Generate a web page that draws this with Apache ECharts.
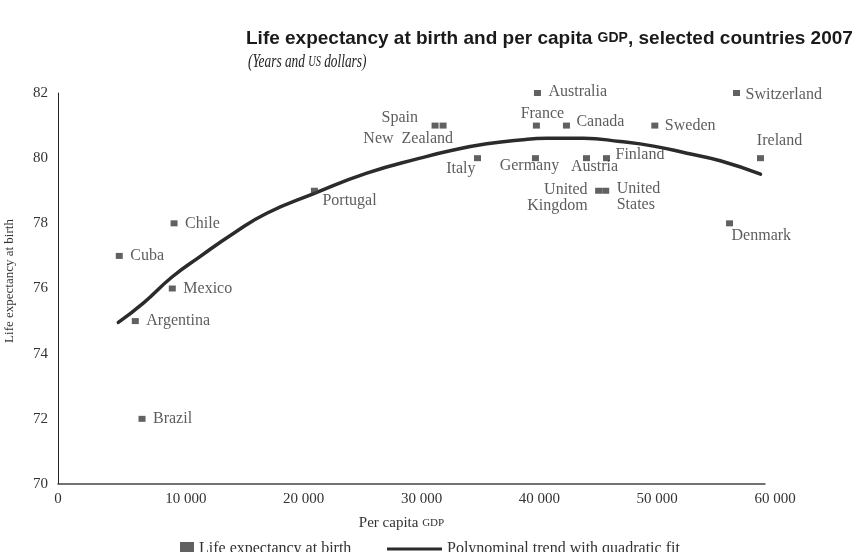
<!DOCTYPE html>
<html>
<head>
<meta charset="utf-8">
<script src="https://cdn.jsdelivr.net/npm/echarts@6/dist/echarts.min.js"></script>
<style>
html,body{margin:0;padding:0;background:#fff;}
#chart{width:854px;height:552px;}
</style>
</head>
<body>
<div id="chart"></div>
<script>
// countries, per capita GDP (US$) and life expectancy (years), 2007
var countries = ['Cuba','Argentina','Brazil','Chile','Mexico','Portugal','Spain','New  Zealand','Italy',
	'Australia','France','Germany','Canada','Austria','Finland','United\nKingdom','United\nStates',
	'Sweden','Switzerland','Ireland','Denmark'];
var gdp = [5200,6560,7130,9850,9700,21760,32000,32680,35600,
	40690,40600,40520,43150,44850,46550,45880,46480,
	50650,57580,59620,56990];
var lifeExp = [77,75,72,78,76,79,81,81,80,
	82,81,80,81,80,80,79,79,
	81,82,80,78];

// quadratic trend line
var trendGdp = [5120,7240,9700,12050,14880,17720,21760,26210,30730,33560,36390,39220,41480,44590,47710,50540,53370,56200,59620];
var trendLife = [74.96,75.55,76.36,76.98,77.69,78.31,78.92,79.54,80.0,80.25,80.44,80.56,80.61,80.61,80.51,80.37,80.15,79.92,79.51];

var xTicks = ['0','10 000','20 000','30 000','40 000','50 000','60 000'];

// label placement: [dx, dy, align]
var labelPos = {
	'Cuba':[11,0,'left'], 'Argentina':[11,0,'left'], 'Brazil':[11,0,'left'],
	'Chile':[11,0,'left'], 'Mexico':[11,0,'left'], 'Portugal':[8,10,'left'],
	'Spain':[-17,-8,'right'], 'New  Zealand':[10,13,'right'], 'Italy':[-2,11,'right'],
	'Australia':[11,-1,'left'], 'France':[6,-12,'center'], 'Germany':[-6,8,'center'],
	'Canada':[10,-4,'left'], 'Austria':[8,9,'center'], 'Finland':[9,-3,'left'],
	'United\nKingdom':[-11,7,'right'], 'United\nStates':[11,6,'left'],
	'Sweden':[10,0,'left'], 'Switzerland':[9,2,'left'], 'Ireland':[19,-17,'center'],
	'Denmark':[2,12,'left']
};

var serif = "'Liberation Serif','DejaVu Serif',serif";
var sans = "'Liberation Sans',Arial,sans-serif";
var txt = '#333';

var scatterData = [];
for(var i=0;i<countries.length;i++){
	var p = labelPos[countries[i]];
	scatterData.push({
		name: countries[i],
		value: [gdp[i], lifeExp[i]],
		label: {align: p[2], offset: [p[0], p[1]]}
	});
}
var trendData = [];
for(var j=0;j<trendGdp.length;j++){
	trendData.push([trendGdp[j], trendLife[j]]);
}

var chart = echarts.init(document.getElementById('chart'));
var option = {
	backgroundColor: '#fff',
	animation: false,
	title: {
		left: 241,
		top: 24,
		text: '{a|Life expectancy at birth and per capita }{b|GDP}{a|, selected countries 2007}',
		textStyle: {
			rich: {
				a: {fontFamily: sans, fontWeight: 'bold', fontSize: 19, color: '#1a1a1a'},
				b: {fontFamily: sans, fontWeight: 'bold', fontSize: 14, color: '#1a1a1a'}
			}
		}
	},
	graphic: [{
		type: 'text',
		x: 248, y: 62,
		scaleX: 0.74,
		style: {
			text: '{a|(Years and }{b|US}{a| dollars)}',
			textVerticalAlign: 'middle',
			rich: {
				a: {fontFamily: serif, fontStyle: 'italic', fontSize: 18, fill: '#222'},
				b: {fontFamily: serif, fontStyle: 'italic', fontSize: 14, fill: '#222'}
			}
		}
	}],
	legend: [{
		left: 175, top: 536, itemWidth: 14, itemHeight: 14,
		data: [{name: 'Life expectancy at birth', icon: 'rect'}],
		textStyle: {fontFamily: serif, fontSize: 16, color: txt}
	},{
		left: 382, top: 536, itemWidth: 55, itemHeight: 3,
		data: [{name: 'Polynominal trend with quadratic fit', icon: 'rect'}],
		textStyle: {fontFamily: serif, fontSize: 16, color: txt}
	}],
	grid: {left: 58, right: 89, top: 93, bottom: 68, outerBoundsMode: 'none', containLabel: false},
	xAxis: {
		type: 'value', min: 0, max: 60000, interval: 10000,
		name: '{a|Per capita }{b|GDP}',
		nameLocation: 'middle', nameGap: 32,
		nameTextStyle: {
			padding: [0, 20, 0, 0],
			rich: {
				a: {fontFamily: serif, fontSize: 15, color: txt},
				b: {fontFamily: serif, fontSize: 11, color: txt}
			}
		},
		axisLine: {lineStyle: {color: '#444', width: 1.5}},
		axisTick: {show: false},
		splitLine: {show: false},
		axisLabel: {
			margin: 8,
			formatter: function(v){
				var s = xTicks[Math.round(v/10000)];
				return v==0 ? s : '{p|' + s + '}';
			},
			fontFamily: serif, fontSize: 15, color: txt,
			rich: {p: {fontFamily: serif, fontSize: 15, color: txt, padding: [0,0,0,20]}}
		}
	},
	yAxis: {
		type: 'value', min: 70, max: 82, interval: 2,
		name: 'Life expectancy at birth',
		nameLocation: 'middle', nameGap: 42,
		nameTextStyle: {fontFamily: serif, fontSize: 13, color: txt, padding: [0,0,0,15]},
		axisLine: {show: true, lineStyle: {color: '#222', width: 1}},
		axisTick: {show: false},
		splitLine: {show: false},
		axisLabel: {margin: 10, fontFamily: serif, fontSize: 15, color: txt}
	},
	series: [{
		name: 'Polynominal trend with quadratic fit',
		type: 'line',
		data: trendData,
		smooth: true,
		symbol: 'none',
		showSymbol: false,
		color: '#2b2b2b',
		lineStyle: {width: 3.5, color: '#2b2b2b', cap: 'round'},
		z: 2
	},{
		name: 'Life expectancy at birth',
		type: 'scatter',
		data: scatterData,
		symbol: 'rect',
		symbolSize: [7, 6],
		itemStyle: {color: '#3a3a3a'},
		color: '#3a3a3a',
		label: {
			show: true,
			position: 'inside',
			verticalAlign: 'middle',
			formatter: '{b}',
			fontFamily: serif, fontSize: 16, color: txt, lineHeight: 16
		},
		z: 3
	}]
};
chart.setOption(option);
</script>
</body>
</html>
